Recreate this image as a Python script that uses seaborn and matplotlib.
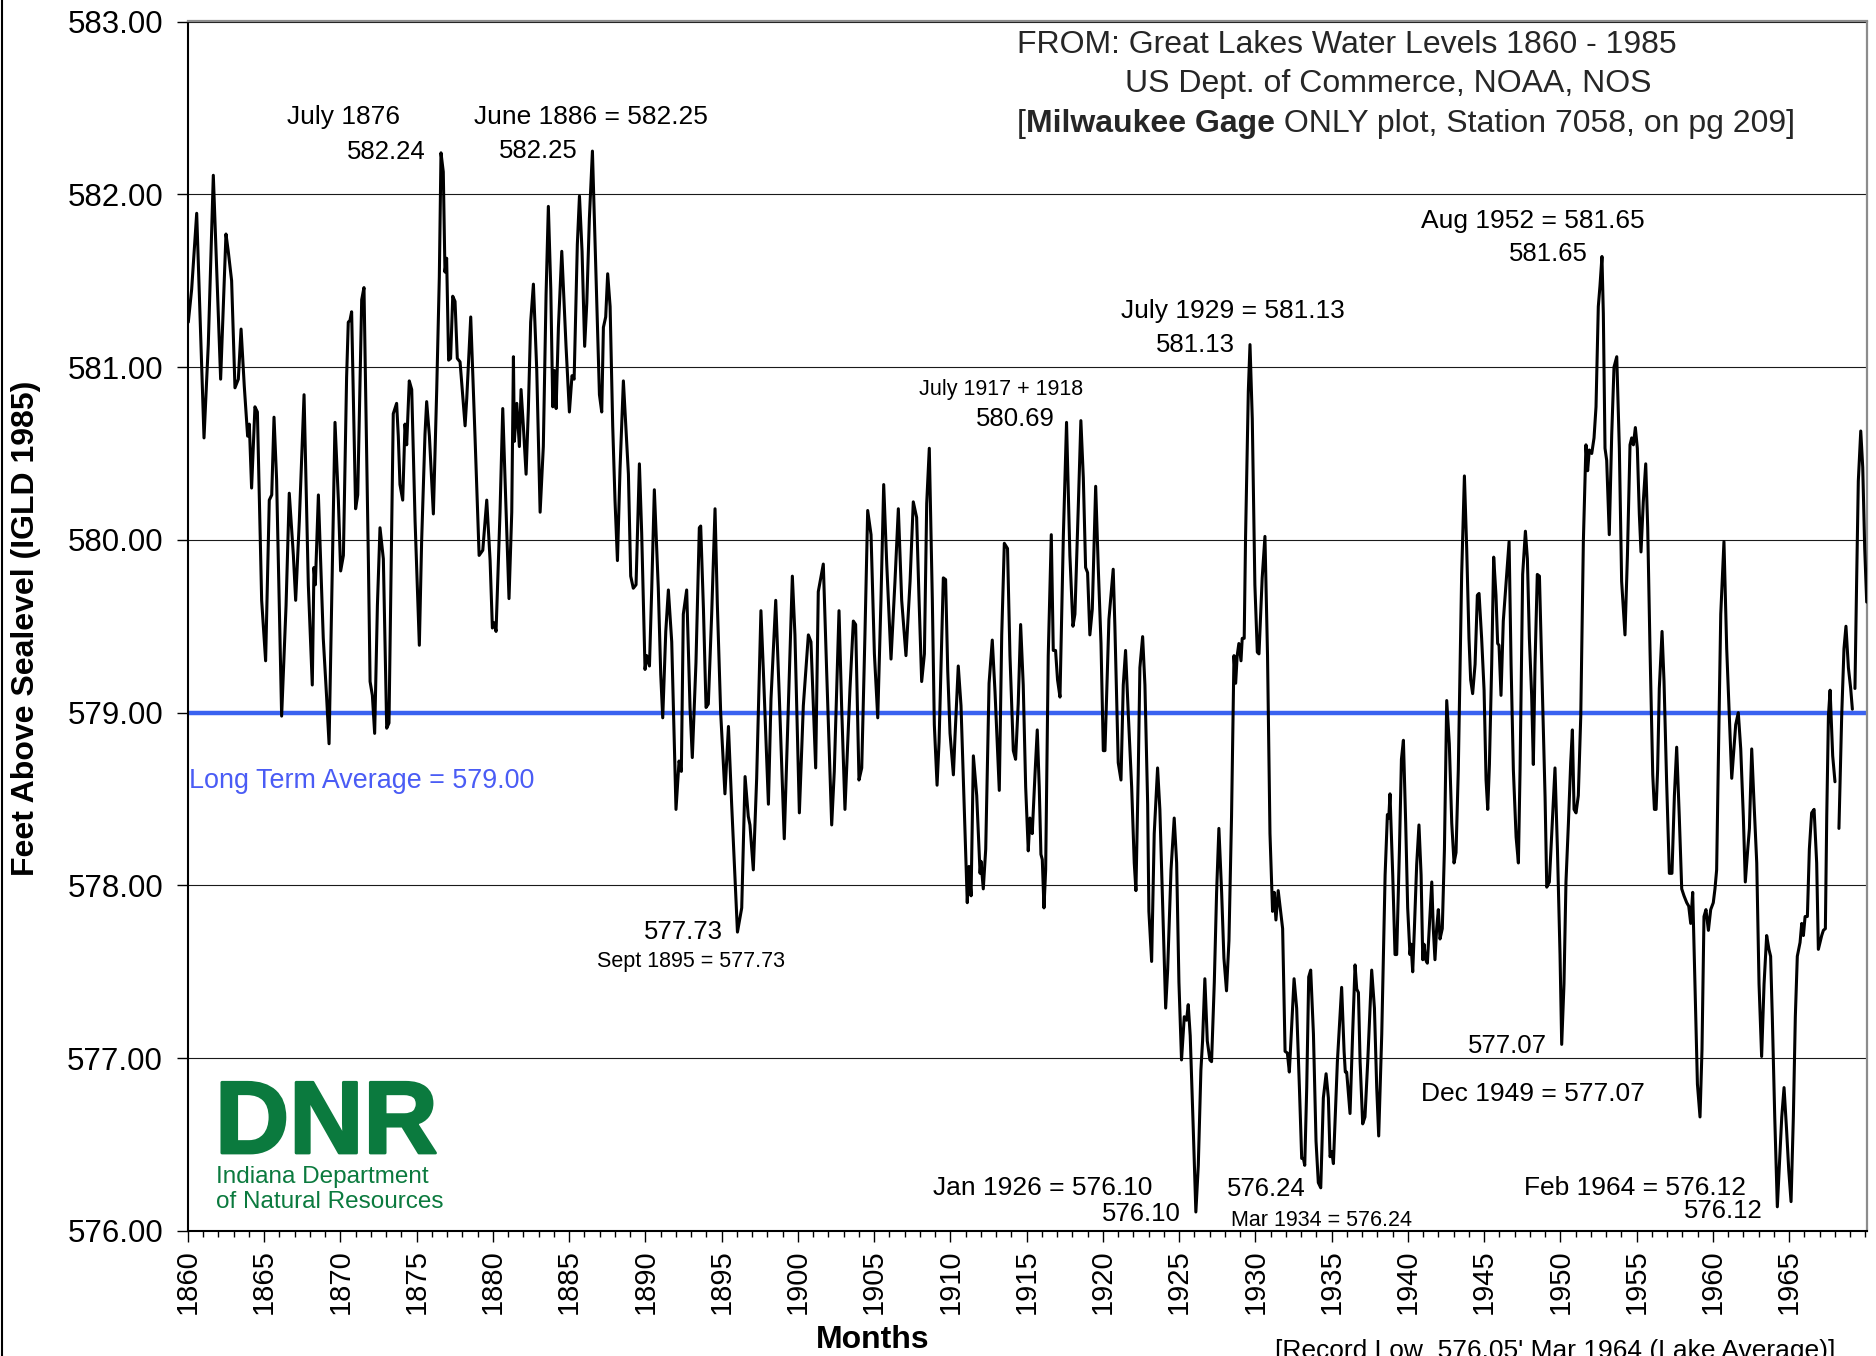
import matplotlib
matplotlib.use("Agg")
import matplotlib.pyplot as plt
import matplotlib.patheffects as pe
from matplotlib.lines import Line2D
from matplotlib.ticker import MultipleLocator, FormatStrFormatter
import seaborn as sns
import pandas as pd
import numpy as np

# ---------------- data (decimal year, feet above sea level) ----------------
seg_1860_1878 = [
    (1860.02, 581.26), (1860.24, 581.45), (1860.57, 581.89), (1861.05, 580.59), (1861.33, 581.13),
    (1861.66, 582.11), (1862.14, 580.93), (1862.49, 581.77), (1862.64, 581.67), (1862.86, 581.50),
    (1863.08, 580.88), (1863.30, 580.93), (1863.48, 581.22), (1863.69, 580.89), (1863.91, 580.60),
    (1864.02, 580.67), (1864.17, 580.30), (1864.39, 580.77), (1864.55, 580.74), (1864.83, 579.65),
    (1865.09, 579.30), (1865.33, 580.23), (1865.49, 580.26), (1865.64, 580.71), (1865.81, 580.35),
    (1866.14, 578.98), (1866.43, 579.62), (1866.64, 580.27), (1866.91, 579.91), (1867.06, 579.65),
    (1867.30, 580.11), (1867.61, 580.84), (1867.89, 579.74), (1868.15, 579.16), (1868.26, 579.84),
    (1868.35, 579.74), (1868.55, 580.26), (1868.87, 579.43), (1869.09, 579.09), (1869.25, 578.82),
    (1869.42, 579.62), (1869.64, 580.68), (1869.86, 580.23), (1870.01, 579.82), (1870.19, 579.91),
    (1870.40, 580.94), (1870.51, 581.26), (1870.62, 581.27), (1870.73, 581.32), (1870.84, 580.84),
    (1870.99, 580.18), (1871.13, 580.26), (1871.39, 581.39), (1871.54, 581.46), (1871.83, 579.87),
    (1871.94, 579.18), (1872.09, 579.10), (1872.24, 578.88), (1872.42, 579.62), (1872.59, 580.07),
    (1872.81, 579.89), (1873.03, 578.91), (1873.18, 578.94), (1873.46, 580.73), (1873.68, 580.79),
    (1873.79, 580.60), (1873.90, 580.32), (1874.08, 580.23), (1874.23, 580.67), (1874.34, 580.55),
    (1874.51, 580.92), (1874.67, 580.87), (1874.89, 580.11), (1875.17, 579.39), (1875.32, 579.99),
    (1875.54, 580.61), (1875.65, 580.80), (1875.83, 580.60), (1876.09, 580.15), (1876.31, 580.87),
    (1876.48, 581.52), (1876.59, 582.24), (1876.74, 582.13), (1876.85, 581.55), (1876.96, 581.63),
    (1877.09, 581.04), (1877.22, 581.05), (1877.36, 581.41), (1877.51, 581.38), (1877.66, 581.05),
]
seg_1878_1896 = [
    (1877.84, 581.03), (1878.17, 580.66), (1878.28, 580.82), (1878.54, 581.29), (1878.82, 580.60),
    (1879.09, 579.91), (1879.33, 579.94), (1879.59, 580.23), (1879.81, 579.88), (1879.96, 579.49),
    (1880.09, 579.52), (1880.20, 579.47), (1880.46, 580.16), (1880.64, 580.76), (1880.79, 580.35),
    (1881.05, 579.66), (1881.23, 580.16), (1881.34, 581.06), (1881.40, 580.57), (1881.56, 580.79),
    (1881.73, 580.54), (1881.84, 580.87), (1881.99, 580.66), (1882.17, 580.38), (1882.32, 580.76),
    (1882.47, 581.26), (1882.65, 581.48), (1882.87, 580.98), (1883.09, 580.16), (1883.30, 580.54),
    (1883.48, 581.42), (1883.63, 581.93), (1883.79, 581.45), (1883.92, 580.77), (1884.03, 580.98),
    (1884.14, 580.76), (1884.29, 581.23), (1884.51, 581.67), (1884.79, 581.12), (1885.01, 580.74),
    (1885.18, 580.95), (1885.32, 580.93), (1885.53, 581.71), (1885.67, 581.99), (1885.84, 581.67),
    (1886.01, 581.12), (1886.15, 581.37), (1886.32, 581.86), (1886.52, 582.25), (1886.76, 581.51),
    (1886.98, 580.84), (1887.13, 580.74), (1887.24, 581.23), (1887.39, 581.29), (1887.52, 581.54),
    (1887.68, 581.35), (1887.85, 580.66), (1888.00, 580.23), (1888.16, 579.88), (1888.33, 580.41),
    (1888.55, 580.92), (1888.73, 580.63), (1888.88, 580.38), (1889.03, 579.79), (1889.20, 579.72),
    (1889.38, 579.74), (1889.60, 580.44), (1889.75, 580.04), (1889.97, 579.25), (1890.08, 579.33),
    (1890.26, 579.27), (1890.41, 579.72), (1890.58, 580.29), (1890.84, 579.72), (1891.00, 579.22),
    (1891.13, 578.97), (1891.33, 579.47), (1891.50, 579.71), (1891.72, 579.41), (1892.00, 578.44),
    (1892.20, 578.72), (1892.35, 578.66), (1892.48, 579.57), (1892.70, 579.71), (1892.92, 579.03),
    (1893.07, 578.74), (1893.31, 579.29), (1893.53, 580.07), (1893.62, 580.08), (1893.80, 579.60),
    (1893.97, 579.03), (1894.12, 579.05), (1894.34, 579.57), (1894.56, 580.18), (1894.71, 579.63),
    (1894.93, 579.00), (1895.21, 578.53), (1895.44, 578.92), (1895.65, 578.47), (1896.03, 577.73),
    (1896.31, 577.87), (1896.53, 578.63),
]
seg_1896_1913 = [
    (1896.74, 578.40), (1896.85, 578.35), (1897.07, 578.09), (1897.29, 578.62), (1897.57, 579.59),
    (1897.73, 579.24), (1898.06, 578.47), (1898.23, 579.08), (1898.54, 579.65), (1898.78, 579.08),
    (1899.10, 578.27), (1899.37, 579.04), (1899.63, 579.79), (1899.80, 579.45), (1900.09, 578.42),
    (1900.35, 579.04), (1900.68, 579.45), (1900.85, 579.41), (1901.16, 578.68), (1901.33, 579.70),
    (1901.66, 579.86), (1901.88, 579.24), (1902.21, 578.35), (1902.38, 578.66), (1902.69, 579.59),
    (1902.86, 579.04), (1903.08, 578.44), (1903.41, 579.14), (1903.63, 579.53), (1903.78, 579.51),
    (1904.00, 578.61), (1904.18, 578.68), (1904.39, 579.45), (1904.57, 580.17), (1904.79, 580.03),
    (1905.01, 579.34), (1905.23, 578.97), (1905.44, 579.65), (1905.62, 580.32), (1905.82, 579.86),
    (1906.10, 579.31), (1906.36, 579.76), (1906.58, 580.18), (1906.80, 579.65), (1907.08, 579.33),
    (1907.35, 579.76), (1907.56, 580.22), (1907.78, 580.13), (1907.94, 579.65), (1908.11, 579.18),
    (1908.29, 579.34), (1908.44, 580.21), (1908.61, 580.53), (1908.81, 579.65), (1908.94, 578.93),
    (1909.12, 578.58), (1909.25, 578.83), (1909.53, 579.78), (1909.68, 579.77), (1909.82, 579.24),
    (1909.97, 578.88), (1910.19, 578.64), (1910.30, 578.87), (1910.51, 579.27), (1910.69, 579.04),
    (1910.95, 578.31), (1911.10, 577.90), (1911.21, 578.11), (1911.35, 577.94), (1911.50, 578.75),
    (1911.72, 578.52), (1911.94, 578.07), (1912.00, 578.14), (1912.15, 577.98), (1912.31, 578.21),
    (1912.53, 579.17), (1912.74, 579.42), (1912.92, 579.12), (1913.20, 578.55), (1913.36, 579.45),
    (1913.53, 579.98),
]
seg_1913_1931 = [
    (1913.74, 579.95), (1913.90, 579.33), (1914.12, 578.78), (1914.27, 578.73), (1914.44, 579.05),
    (1914.60, 579.51), (1914.77, 579.16), (1914.93, 578.57), (1915.10, 578.20), (1915.21, 578.39),
    (1915.36, 578.30), (1915.54, 578.64), (1915.69, 578.90), (1915.82, 578.57), (1915.93, 578.18),
    (1916.02, 578.15), (1916.13, 577.87), (1916.24, 578.09), (1916.41, 579.33), (1916.61, 580.03),
    (1916.74, 579.36), (1916.89, 579.36), (1917.02, 579.19), (1917.18, 579.09), (1917.40, 580.02),
    (1917.61, 580.68), (1917.83, 579.91), (1918.03, 579.50), (1918.16, 579.57), (1918.38, 580.19),
    (1918.55, 580.69), (1918.71, 580.36), (1918.86, 579.84), (1918.99, 579.81), (1919.14, 579.45),
    (1919.30, 579.60), (1919.52, 580.31), (1919.69, 579.84), (1919.87, 579.40), (1920.02, 578.78),
    (1920.13, 578.78), (1920.39, 579.54), (1920.67, 579.83), (1920.78, 579.50), (1921.00, 578.71),
    (1921.18, 578.61), (1921.33, 579.16), (1921.48, 579.36), (1921.66, 578.99), (1921.88, 578.57),
    (1922.05, 578.13), (1922.16, 577.97), (1922.31, 578.64), (1922.42, 579.26), (1922.60, 579.44),
    (1922.75, 579.16), (1922.93, 578.47), (1923.01, 577.85), (1923.19, 577.56), (1923.36, 578.30),
    (1923.58, 578.68), (1923.73, 578.44), (1923.89, 577.96), (1924.11, 577.29), (1924.24, 577.51),
    (1924.46, 578.09), (1924.67, 578.39), (1924.83, 578.13), (1924.98, 577.44), (1925.15, 576.99),
    (1925.33, 577.24), (1925.48, 577.22), (1925.59, 577.31), (1925.72, 577.13), (1925.92, 576.59),
    (1926.09, 576.11), (1926.25, 576.38), (1926.42, 576.93), (1926.53, 577.10), (1926.68, 577.46),
    (1926.84, 577.10), (1927.01, 576.99), (1927.12, 576.98), (1927.30, 577.44), (1927.45, 577.96),
    (1927.60, 578.33), (1927.78, 577.96), (1927.93, 577.58), (1928.10, 577.39), (1928.26, 577.68),
    (1928.43, 578.40), (1928.59, 579.33), (1928.70, 579.17), (1928.80, 579.33), (1928.91, 579.40),
    (1929.05, 579.30), (1929.13, 579.43), (1929.26, 579.43), (1929.35, 580.02), (1929.53, 580.86),
    (1929.64, 581.13), (1929.79, 580.70), (1929.96, 579.74), (1930.12, 579.35), (1930.23, 579.34),
    (1930.44, 579.78), (1930.62, 580.02), (1930.79, 579.33), (1930.95, 578.30), (1931.12, 577.85),
    (1931.23, 577.96), (1931.34, 577.80), (1931.49, 577.97),
]
seg_1931_1950 = [
    (1931.78, 577.75), (1931.94, 577.04), (1932.09, 577.03), (1932.22, 576.92), (1932.38, 577.20),
    (1932.53, 577.46), (1932.70, 577.29), (1932.88, 576.83), (1933.03, 576.42), (1933.14, 576.42),
    (1933.23, 576.38), (1933.36, 576.83), (1933.49, 577.47), (1933.62, 577.51), (1933.80, 577.14),
    (1933.97, 576.52), (1934.12, 576.28), (1934.28, 576.25), (1934.45, 576.77), (1934.63, 576.91),
    (1934.78, 576.77), (1934.89, 576.43), (1935.00, 576.46), (1935.11, 576.39), (1935.37, 576.98),
    (1935.65, 577.41), (1935.81, 577.04), (1935.89, 576.92), (1935.98, 576.92), (1936.20, 576.68),
    (1936.37, 577.14), (1936.53, 577.54), (1936.64, 577.40), (1936.75, 577.38), (1936.86, 576.98),
    (1937.03, 576.62), (1937.18, 576.66), (1937.36, 576.98), (1937.62, 577.51), (1937.80, 577.29),
    (1937.95, 576.83), (1938.08, 576.55), (1938.28, 577.14), (1938.50, 578.06), (1938.65, 578.41),
    (1938.74, 578.39), (1938.82, 578.53), (1939.00, 578.06), (1939.15, 577.60), (1939.26, 577.60),
    (1939.44, 578.21), (1939.57, 578.73), (1939.70, 578.84), (1939.85, 578.36), (1939.98, 577.87),
    (1940.13, 577.60), (1940.20, 577.66), (1940.31, 577.50), (1940.42, 577.75), (1940.57, 578.12),
    (1940.72, 578.35), (1940.86, 578.06), (1940.97, 577.57), (1941.05, 577.66), (1941.16, 577.57),
    (1941.27, 577.55), (1941.45, 577.84), (1941.56, 578.02), (1941.66, 577.75), (1941.77, 577.57),
    (1941.88, 577.75), (1941.99, 577.86), (1942.10, 577.69), (1942.25, 577.75), (1942.39, 578.21),
    (1942.54, 579.07), (1942.71, 578.82), (1942.87, 578.36), (1943.02, 578.13), (1943.15, 578.19),
    (1943.30, 578.67), (1943.52, 579.80), (1943.70, 580.37), (1943.85, 579.95), (1944.00, 579.43),
    (1944.11, 579.19), (1944.24, 579.11), (1944.40, 579.28), (1944.55, 579.68), (1944.66, 579.69),
    (1944.83, 579.43), (1944.99, 579.13), (1945.12, 578.61), (1945.23, 578.44), (1945.34, 578.70),
    (1945.49, 579.28), (1945.62, 579.90), (1945.77, 579.68), (1945.88, 579.40), (1945.97, 579.39),
    (1946.10, 579.10), (1946.25, 579.53), (1946.47, 579.80), (1946.63, 579.99), (1946.76, 579.28),
    (1946.91, 578.67), (1947.09, 578.28), (1947.24, 578.13), (1947.35, 578.67), (1947.52, 579.80),
    (1947.70, 580.05), (1947.83, 579.89), (1947.96, 579.43), (1948.11, 579.10), (1948.22, 578.70),
    (1948.33, 579.28), (1948.48, 579.80), (1948.62, 579.79), (1948.77, 579.28), (1948.99, 578.51),
    (1949.10, 577.99), (1949.27, 578.02), (1949.49, 578.42), (1949.64, 578.68), (1949.80, 578.21),
    (1949.97, 577.60), (1950.08, 577.08),
]
seg_1950_1970 = [
    (1950.23, 577.43), (1950.36, 578.02), (1950.52, 578.36), (1950.67, 578.71), (1950.78, 578.90),
    (1950.89, 578.44), (1951.02, 578.42), (1951.17, 578.52), (1951.33, 578.98), (1951.50, 579.99),
    (1951.67, 580.55), (1951.78, 580.40), (1951.89, 580.52), (1952.05, 580.50), (1952.20, 580.59),
    (1952.33, 580.77), (1952.48, 581.35), (1952.59, 581.47), (1952.72, 581.64), (1952.81, 581.31),
    (1952.92, 580.53), (1953.03, 580.46), (1953.20, 580.03), (1953.36, 580.61), (1953.51, 581.00),
    (1953.69, 581.06), (1953.86, 580.53), (1954.01, 579.76), (1954.23, 579.45), (1954.39, 579.91),
    (1954.56, 580.55), (1954.67, 580.59), (1954.78, 580.55), (1954.91, 580.65), (1955.04, 580.53),
    (1955.17, 580.15), (1955.28, 579.93), (1955.43, 580.22), (1955.59, 580.44), (1955.72, 580.07),
    (1955.87, 579.37), (1956.05, 578.64), (1956.16, 578.44), (1956.27, 578.44), (1956.37, 578.67),
    (1956.48, 579.14), (1956.66, 579.47), (1956.79, 579.18), (1956.96, 578.60), (1957.14, 578.07),
    (1957.31, 578.07), (1957.47, 578.52), (1957.62, 578.80), (1957.79, 578.40), (1957.95, 577.98),
    (1958.10, 577.94), (1958.28, 577.90), (1958.41, 577.88), (1958.54, 577.78), (1958.67, 577.96),
    (1958.82, 577.43), (1958.98, 576.85), (1959.15, 576.66), (1959.28, 577.05), (1959.41, 577.82),
    (1959.54, 577.86), (1959.70, 577.74), (1959.85, 577.86), (1960.02, 577.90), (1960.13, 577.98),
    (1960.24, 578.09), (1960.35, 578.71), (1960.51, 579.57), (1960.72, 579.99), (1960.90, 579.37),
    (1961.07, 578.98), (1961.23, 578.62), (1961.34, 578.75), (1961.49, 578.93), (1961.66, 579.00),
    (1961.82, 578.79), (1961.99, 578.40), (1962.12, 578.02), (1962.28, 578.21), (1962.39, 578.33),
    (1962.54, 578.79), (1962.69, 578.48), (1962.87, 578.13), (1963.02, 577.43), (1963.19, 577.01),
    (1963.35, 577.43), (1963.52, 577.71), (1963.67, 577.63), (1963.78, 577.59), (1963.89, 577.24),
    (1964.05, 576.66), (1964.22, 576.14), (1964.40, 576.47), (1964.51, 576.66), (1964.66, 576.83),
    (1964.83, 576.58), (1964.97, 576.35), (1965.12, 576.17), (1965.27, 576.66), (1965.40, 577.24),
    (1965.53, 577.59), (1965.71, 577.67), (1965.82, 577.78), (1965.93, 577.71), (1966.04, 577.82),
    (1966.19, 577.82), (1966.32, 578.21), (1966.47, 578.42), (1966.63, 578.44), (1966.80, 578.13),
    (1966.91, 577.63), (1967.02, 577.67), (1967.13, 577.71), (1967.24, 577.74), (1967.37, 577.75),
    (1967.46, 578.40), (1967.57, 578.98), (1967.68, 579.13), (1967.85, 578.75), (1968.00, 578.60),
    (1968.26, 578.33), (1968.44, 578.98), (1968.59, 579.37), (1968.72, 579.50), (1968.88, 579.26),
    (1969.03, 579.14), (1969.14, 579.02),
    (1969.31, 579.14), (1969.42, 579.76), (1969.53, 580.34), (1969.69, 580.63), (1969.82, 580.42),
    (1969.95, 579.95), (1970.08, 579.64),
]
gap_after = [1968.00, 1969.14]          # missing months in the record
long_term_average = 579.00
y_ticks = [576, 577, 578, 579, 580, 581, 582, 583]
x_ticks = list(range(1860, 1970, 5))

# ---------------- build table ----------------
points = seg_1860_1878 + seg_1878_1896 + seg_1896_1913 + seg_1913_1931 + seg_1931_1950 + seg_1950_1970
df = pd.DataFrame(points, columns=["year", "level"])
df["unit"] = np.searchsorted(np.array(gap_after), df["year"].values, side="left")

# ---------------- figure ----------------
W, H = 1876, 1356
sns.set_theme(style="white")
plt.rcParams["font.family"] = ["Liberation Sans", "DejaVu Sans"]

fig = plt.figure(figsize=(W / 100, H / 100), dpi=100)
ax = fig.add_axes([188 / W, 1 - 1231 / H, (1867 - 188) / W, (1231 - 21.5) / H])

ax.grid(True, axis="y", color="#1a1a1a", linewidth=0.8, zorder=0)
ax.axhline(long_term_average, color="#3a62f0", linewidth=3.2, zorder=2)
sns.lineplot(data=df, x="year", y="level", units="unit", estimator=None, sort=False,
             color="black", linewidth=2.2, ax=ax, legend=False, zorder=3)

ax.set_xlim(1860, 1970.1)
ax.set_ylim(576, 583)
ax.set_yticks(y_ticks)
ax.yaxis.set_major_formatter(FormatStrFormatter("%.2f"))
ax.set_xticks(x_ticks)
ax.set_xticklabels([str(t) for t in x_ticks], rotation=90)
ax.xaxis.set_minor_locator(MultipleLocator(1))
ax.set_xlabel("")
ax.set_ylabel("")

ax.tick_params(axis="x", which="major", bottom=True, direction="out", length=8, width=1,
               labelsize=21, pad=5, color="black")
ax.tick_params(axis="x", which="minor", bottom=True, direction="out", length=4, width=1, color="black")
ax.tick_params(axis="y", which="major", left=True, direction="out", length=8, width=1,
               labelsize=22.5, pad=10, color="black")
for lab in ax.get_xticklabels() + ax.get_yticklabels():
    lab.set_color("black")

for s in ["left", "bottom"]:
    ax.spines[s].set_color("black")
    ax.spines[s].set_linewidth(1.5)
for s in ["top", "right"]:
    ax.spines[s].set_color("#8c8c8c")
    ax.spines[s].set_linewidth(1.6)

# left figure border
fig.add_artist(Line2D([2 / W, 2 / W], [0, 1], transform=fig.transFigure, color="black", lw=1.5))


def ftxt(x, y, s, **kw):
    return fig.text(x / W, 1 - y / H, s, **kw)


# axis titles
ftxt(26, 628, "Feet Above Sealevel (IGLD 1985)", rotation=90, ha="center", va="center",
     fontsize=23, fontweight="bold", color="black")
ftxt(873, 1340, "Months", ha="center", va="center", fontsize=23, fontweight="bold", color="black")
ftxt(1555, 1339, "[Record Low  576.05' Mar 1964 (Lake Average)]", ha="center", va="top",
     fontsize=19, color="black")

# source block
ftxt(1017, 45, "FROM: Great Lakes Water Levels 1860 - 1985", ha="left", va="center", fontsize=23)
ftxt(1125, 84, "US Dept. of Commerce, NOAA, NOS", ha="left", va="center", fontsize=23)
t1 = ftxt(1017, 124, "[", ha="left", va="center", fontsize=23)
t2 = ax.annotate("Milwaukee Gage", xy=(1, 0), xycoords=t1, ha="left", va="bottom",
                 fontsize=23, fontweight="bold", annotation_clip=False)
ax.annotate(" ONLY plot, Station 7058, on pg 209]", xy=(1, 0), xycoords=t2, ha="left", va="bottom",
            fontsize=23, annotation_clip=False)

# peak / trough notes
notes = [
    (343, 117, "July 1876", 19), (386, 152, "582.24", 18.5),
    (591, 117, "June 1886 = 582.25", 19), (538, 151, "582.25", 18.5),
    (1533, 221, "Aug 1952 = 581.65", 19), (1548, 254, "581.65", 18.5),
    (1233, 311, "July 1929 = 581.13", 19), (1195, 345, "581.13", 18.5),
    (1001, 389, "July 1917 + 1918", 15.5), (1015, 419, "580.69", 18.5),
    (683, 932, "577.73", 18.5), (691, 961, "Sept 1895 = 577.73", 15.5),
    (1507, 1046, "577.07", 18.5), (1533, 1094, "Dec 1949 = 577.07", 19),
    (1043, 1188, "Jan 1926 = 576.10", 19), (1141, 1214, "576.10", 18.5),
    (1266, 1189, "576.24", 18.5), (1321, 1220, "Mar 1934 = 576.24", 15.5),
    (1635, 1188, "Feb 1964 = 576.12", 19), (1723, 1211, "576.12", 18.5),
]
for x, y, s, fs in notes:
    ftxt(x, y, s, ha="center", va="center", fontsize=fs, color="black")

ftxt(189, 781, "Long Term Average = 579.00", ha="left", va="center", fontsize=19.4, color="#4a5cf5")

# DNR logo (as text)
green = "#0b7a3e"
ftxt(215, 1153, "DNR", ha="left", va="baseline", fontsize=74, fontweight="bold", color=green,
     path_effects=[pe.withStroke(linewidth=2, foreground=green)])
ftxt(216, 1177, "Indiana Department", ha="left", va="center", fontsize=17.5, color=green)
ftxt(216, 1202, "of Natural Resources", ha="left", va="center", fontsize=17.5, color=green)

fig.savefig("out.png", dpi=100, facecolor="white")
